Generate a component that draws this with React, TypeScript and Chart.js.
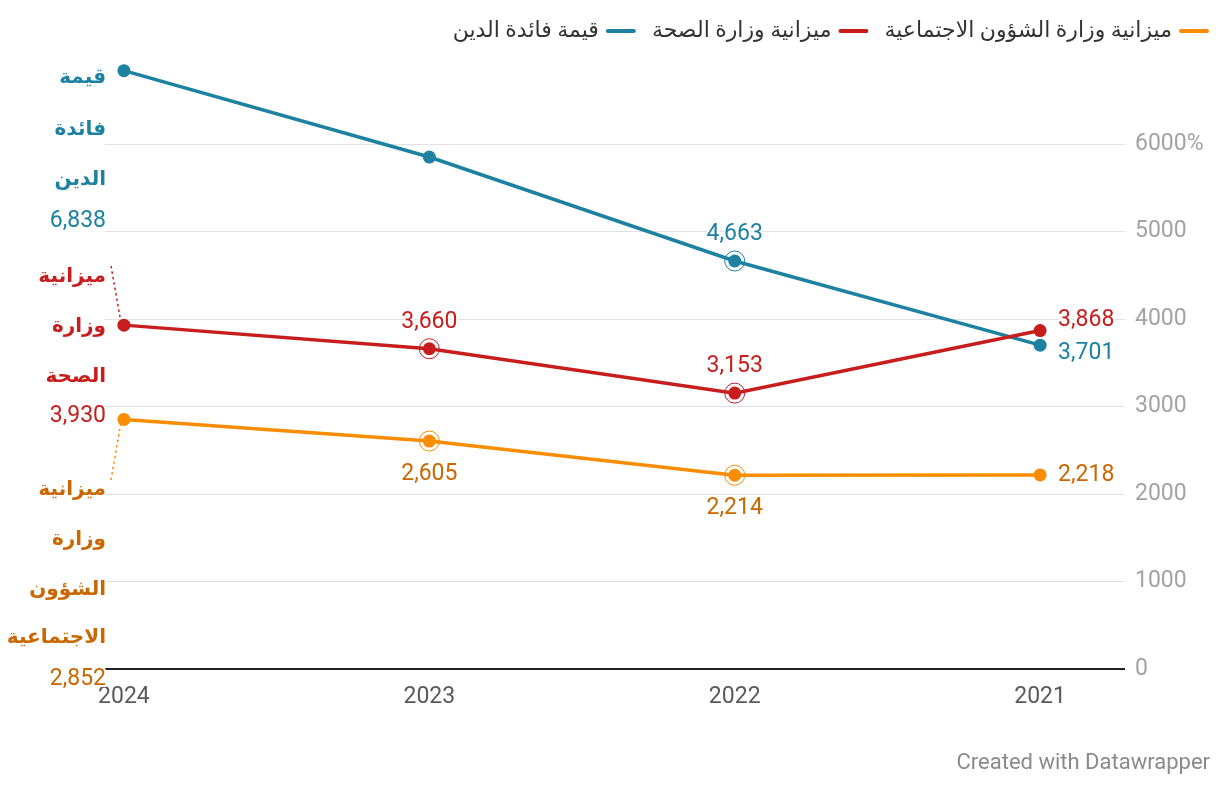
import React, { useEffect, useRef } from "react";
import { Chart, registerables } from "chart.js";

Chart.register(...registerables);

// ---- data ----
const years = [2024, 2023, 2022, 2021];
const debtInterest = [6838, 5851, 4663, 3701];
const healthBudget = [3930, 3660, 3153, 3868];
const socialBudget = [2852, 2605, 2214, 2218];
const yTickValues = [0, 1000, 2000, 3000, 4000, 5000, 6000];
const seriesNames = [
  "قيمة فائدة الدين",
  "ميزانية وزارة الصحة",
  "ميزانية وزارة الشؤون الاجتماعية",
];
const endLabelWords = [
  ["قيمة", "فائدة", "الدين"],
  ["ميزانية", "وزارة", "الصحة"],
  ["ميزانية", "وزارة", "الشؤون", "الاجتماعية"],
];
const footerText = "Created with Datawrapper";

// ---- styles ----
const lineColors = ["#1d81a2", "#c71e1d", "#fa8c00"];
const textColors = ["#1d81a2", "#c71e1d", "#c96700"];
const FONT = "Roboto, 'Noto Sans', 'DejaVu Sans', sans-serif";
const seriesValues = [debtInterest, healthBudget, socialBudget];

// inline value label placement per point: [dx, dy, align]
const inlineLabels: Array<Array<[number, number, CanvasTextAlign] | null>> = [
  [null, null, [0, -27, "center"], [18, 8, "left"]],
  [null, [0, -27, "center"], [0, -27, "center"], [18, -10, "left"]],
  [null, [0, 33, "center"], [0, 33, "center"], [18, 0, "left"]],
];
const ringed = [
  [false, false, true, false],
  [false, true, true, false],
  [false, true, true, false],
];
// centers of each line of the stacked left labels
const leftLabelY = [
  [78, 130, 180, 220],
  [277, 327, 377, 415],
  [490, 540, 590, 638, 678],
];

function fmt(v: number) {
  return v.toLocaleString("en-US");
}

function haloText(ctx: CanvasRenderingContext2D, t: string, x: number, y: number, color: string) {
  ctx.lineJoin = "round";
  ctx.lineWidth = 4;
  ctx.strokeStyle = "#ffffff";
  ctx.strokeText(t, x, y);
  ctx.fillStyle = color;
  ctx.fillText(t, x, y);
}

const overlayPlugin = {
  id: "overlay",
  afterDatasetsDraw(chart: any) {
    const ctx: CanvasRenderingContext2D = chart.ctx;
    const xs = chart.scales.x;
    const ys = chart.scales.y;
    ctx.save();
    // rings
    seriesValues.forEach((vals, si) => {
      vals.forEach((v, i) => {
        if (!ringed[si][i]) return;
        const px = xs.getPixelForValue(years[i]);
        const py = ys.getPixelForValue(v);
        ctx.beginPath();
        ctx.arc(px, py, 10, 0, Math.PI * 2);
        ctx.lineWidth = 1;
        ctx.strokeStyle = lineColors[si];
        ctx.stroke();
      });
    });
    // inline labels
    ctx.font = `23px ${FONT}`;
    ctx.textBaseline = "middle";
    seriesValues.forEach((vals, si) => {
      vals.forEach((v, i) => {
        const l = inlineLabels[si][i];
        if (!l) return;
        const px = xs.getPixelForValue(years[i]);
        const py = ys.getPixelForValue(v);
        ctx.textAlign = l[2];
        haloText(ctx, fmt(v), px + l[0], py + l[1], textColors[si]);
      });
    });
    // left stacked labels
    seriesValues.forEach((vals, si) => {
      const words = endLabelWords[si];
      const ysPos = leftLabelY[si];
      ctx.textAlign = "right";
      ctx.textBaseline = "middle";
      ctx.font = `bold 20px ${FONT}`;
      words.forEach((w, k) => {
        haloText(ctx, w, 106, ysPos[k], textColors[si]);
      });
      ctx.font = `23px ${FONT}`;
      haloText(ctx, fmt(vals[0]), 106, ysPos[words.length] + 1, textColors[si]);
    });
    // dotted connectors
    const px0 = xs.getPixelForValue(years[0]);
    ctx.setLineDash([2.5, 3]);
    ctx.lineWidth = 1.5;
    ctx.strokeStyle = lineColors[1];
    ctx.beginPath();
    ctx.moveTo(111, 266);
    ctx.lineTo(px0 - 3, ys.getPixelForValue(healthBudget[0]) - 3);
    ctx.stroke();
    ctx.strokeStyle = lineColors[2];
    ctx.beginPath();
    ctx.moveTo(111, 480);
    ctx.lineTo(px0 - 3, ys.getPixelForValue(socialBudget[0]) + 3);
    ctx.stroke();
    ctx.setLineDash([]);
    ctx.restore();
  },
  afterDraw(chart: any) {
    const ctx: CanvasRenderingContext2D = chart.ctx;
    ctx.save();
    // legend (right to left)
    ctx.font = `22px ${FONT}`;
    ctx.textBaseline = "middle";
    ctx.textAlign = "right";
    let x = 1209;
    const ly = 31;
    for (let si = 2; si >= 0; si--) {
      ctx.strokeStyle = lineColors[si];
      ctx.lineWidth = 4;
      ctx.lineCap = "round";
      ctx.beginPath();
      ctx.moveTo(x - 2, ly);
      ctx.lineTo(x - 28, ly);
      ctx.stroke();
      const tx = x - 37;
      ctx.fillStyle = "#333333";
      ctx.fillText(seriesNames[si], tx, ly);
      const w = ctx.measureText(seriesNames[si]).width;
      x = tx - w - 16;
    }
    // footer
    ctx.font = `22px ${FONT}`;
    ctx.fillStyle = "#8a8a8a";
    ctx.textAlign = "right";
    ctx.fillText(footerText, 1210, 763);
    ctx.restore();
  },
};

export default function App() {
  const ref = useRef<HTMLCanvasElement>(null);
  useEffect(() => {
    if (!ref.current) return;
    const mk = (si: number, order: number) => ({
      label: seriesNames[si],
      data: years.map((y, i) => ({ x: y, y: seriesValues[si][i] })),
      borderColor: lineColors[si],
      backgroundColor: lineColors[si],
      borderWidth: 3.5,
      pointRadius: 6.5,
      pointHoverRadius: 6.5,
      pointBorderWidth: 0,
      tension: 0,
      order,
    });
    const chart = new Chart(ref.current, {
      type: "line",
      data: { datasets: [mk(0, 1), mk(1, 0), mk(2, 2)] },
      options: {
        responsive: false,
        animation: false,
        events: [],
        layout: { padding: { left: 105, right: 0, top: 56.5, bottom: 67 } },
        plugins: { legend: { display: false }, tooltip: { enabled: false } },
        scales: {
          x: {
            type: "linear",
            reverse: true,
            min: 2020.745,
            max: 2024.062,
            afterBuildTicks: (s: any) => {
              s.ticks = years.map((v) => ({ value: v }));
            },
            afterFit: (s: any) => {
              s.height = 50;
            },
            grid: { display: false },
            border: { display: false },
            ticks: {
              padding: 6,
              color: "#5a5a5a",
              font: { family: FONT, size: 23 },
              autoSkip: false,
              maxRotation: 0,
              callback: (v: any) => String(v),
            },
          },
          y: {
            type: "linear",
            position: "right",
            min: 0,
            max: 7000,
            afterBuildTicks: (s: any) => {
              s.ticks = yTickValues.map((v) => ({ value: v }));
            },
            afterFit: (s: any) => {
              s.width = 102;
            },
            grid: {
              color: (c: any) => (c.tick && c.tick.value === 0 ? "#222222" : "#e1e1e1"),
              lineWidth: (c: any) => (c.tick && c.tick.value === 0 ? 2 : 1),
              tickLength: 7,
              drawTicks: true,
            },
            border: { display: false },
            ticks: {
              padding: 10,
              color: "#a3a3a3",
              font: { family: FONT, size: 23 },
              callback: (v: any) => (v === 6000 ? "6000%" : String(v)),
            },
          },
        },
      },
      plugins: [overlayPlugin],
    });
    return () => chart.destroy();
  }, []);
  return (
    <div style={{ position: "fixed", left: 0, top: 0, width: 1220, height: 786, background: "#fff" }}>
      <canvas ref={ref} width={1220} height={786} style={{ display: "block" }} />
    </div>
  );
}
